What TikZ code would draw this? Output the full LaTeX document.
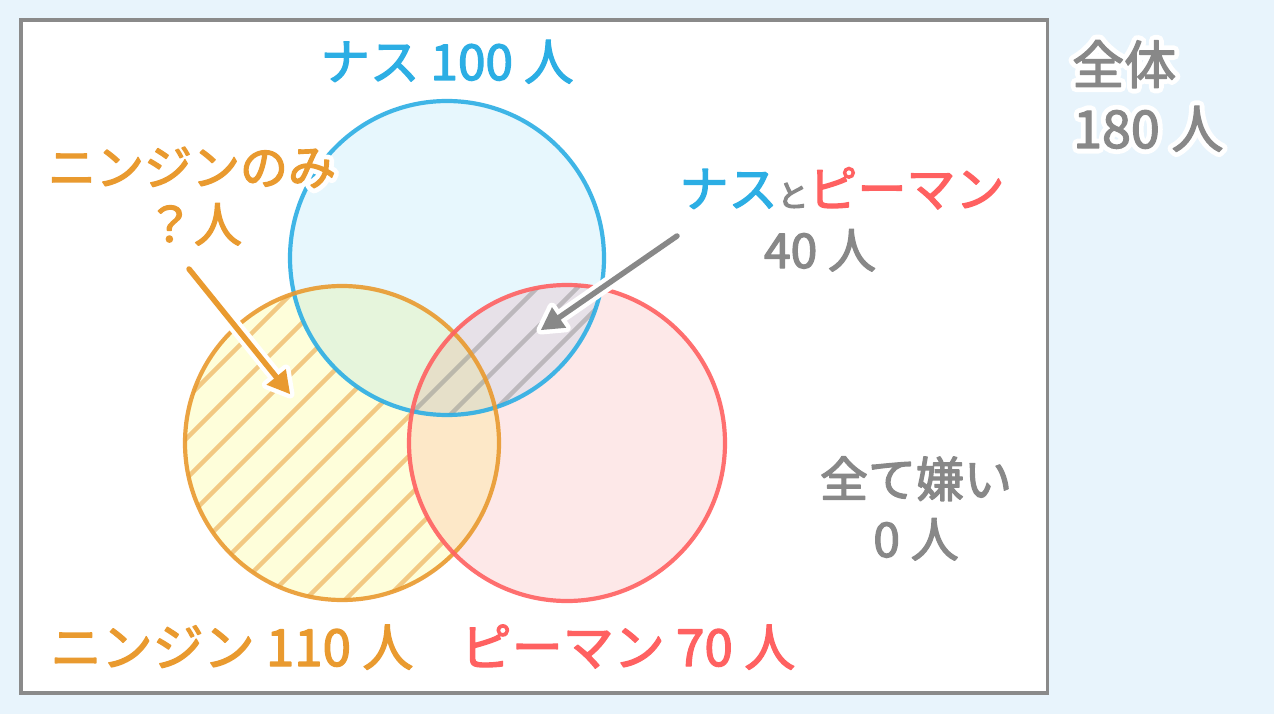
\documentclass[tikz,border=0pt]{standalone}
\usepackage{fontspec}
\setmainfont{Noto Sans CJK JP}
\usetikzlibrary{calc}
\definecolor{bgc}{HTML}{E8F4FC}
\definecolor{frameC}{HTML}{8A8A8A}
\definecolor{blueC}{HTML}{2CAEE4}
\definecolor{orangeC}{HTML}{E99A2F}
\definecolor{redC}{HTML}{FF6161}
\definecolor{grayC}{HTML}{888888}
\definecolor{fB}{HTML}{E7F7FD}
\definecolor{fO}{HTML}{FEFEDA}
\definecolor{fR}{HTML}{FDE8E8}
\definecolor{fBO}{HTML}{E6F5DC}
\definecolor{fOR}{HTML}{FDE8C8}
\definecolor{fBR}{HTML}{E7E1E8}
\definecolor{fBOR}{HTML}{E6E0C9}
\definecolor{hatchO}{HTML}{F2C983}
\newcommand\boldtxt[1]{\special{pdf:literal 1.3 w 1 j 2 Tr}#1\special{pdf:literal 0 Tr}}
\newcommand\halotxt[1]{\leavevmode\rlap{\textcolor{white}{\special{pdf:literal 11 w 1 J 1 j 2 Tr}#1\special{pdf:literal 0 Tr}}}\boldtxt{#1}}
\begin{document}
\begin{tikzpicture}[x=1pt,y=-1pt,
  lbl/.style={font=\fontsize{48pt}{52pt}\selectfont, inner sep=0pt, anchor=base},
  ring/.style={line width=4.2pt, draw opacity=0.9},
  hatchline/.style={line width=4.3pt},
  shafthalo/.style={white, line width=14pt, line cap=round, shorten >=16pt},
  shaft/.style={#1, line width=5.5pt, line cap=round, shorten >=12pt},
  headhalo/.style={white, fill=white, line width=9pt, line join=round},
]
\useasboundingbox (0,0) rectangle (1274,714);
\fill[bgc] (0,0) rectangle (1274,714);
\draw[frameC, fill=white, line width=3.5pt] (21,20) rectangle (1047.5,693);

\coordinate (B) at (447,258);
\coordinate (O) at (342,443);
\coordinate (R) at (567,443);

% region fills
\fill[fB] (B) circle (157);
\fill[fR] (R) circle (158);
\fill[fO] (O) circle (157);
\begin{scope}
  \clip (O) circle (157);
  \foreach \k in {0,...,18} {
    \draw[hatchO, hatchline] ({425+40*\k},0) -- ({425+40*\k-700},700);
  }
\end{scope}
\begin{scope}
  \clip (B) circle (157);
  \fill[fBO] (O) circle (157);
  \fill[fBR] (R) circle (158);
\end{scope}
\begin{scope}
  \clip (R) circle (158);
  \fill[fOR] (O) circle (157);
\end{scope}
\begin{scope}
  \clip (B) circle (157);
  \clip (R) circle (158);
  \fill[fBOR] (O) circle (157);
  \foreach \k in {0,...,18} {
    \draw[grayC, opacity=0.45, hatchline] ({425+40*\k},0) -- ({425+40*\k-700},700);
  }
\end{scope}

% outlines
\draw[ring, blueC] (B) circle (157);
\draw[ring, orangeC] (O) circle (157);
\draw[ring, redC] (R) circle (158);

% arrows
\coordinate (oa) at (189,269);
\coordinate (ob) at (290,394);
\coordinate (ga) at (677,236);
\coordinate (gb) at (541,330);
\coordinate (om) at ($(ob)!22pt!(oa)$);
\coordinate (gm) at ($(gb)!22pt!(ga)$);
\coordinate (ol) at ($(om)!12.5pt!90:(ob)$);
\coordinate (or) at ($(om)!12.5pt!-90:(ob)$);
\coordinate (gl) at ($(gm)!12.5pt!90:(gb)$);
\coordinate (gr) at ($(gm)!12.5pt!-90:(gb)$);
\draw[shafthalo] (oa) -- (ob);
\filldraw[headhalo] (ob) -- (ol) -- (or) -- cycle;
\draw[shaft=orangeC] (oa) -- (ob);
\fill[orangeC] (ob) -- (ol) -- (or) -- cycle;
\draw[shafthalo] (ga) -- (gb);
\filldraw[headhalo] (gb) -- (gl) -- (gr) -- cycle;
\draw[shaft=grayC] (ga) -- (gb);
\fill[grayC] (gb) -- (gl) -- (gr) -- cycle;

% labels
\node[lbl, font=\fontsize{49.5pt}{52pt}\selectfont, text=blueC] (nasu) at (447,80) {\boldtxt{ナス 100 人}};
\node[lbl, text=orangeC] (ninonly) at (192,185) {\halotxt{ニンジンのみ}};
\node[lbl, text=orangeC] (ninq) at (194,242) {\halotxt{？人}};
\node[lbl, font=\fontsize{49pt}{52pt}\selectfont] (nasupiman) at (842,207) {\boldtxt{\textcolor{blueC}{ナス}\textcolor{grayC}{\fontsize{31pt}{34pt}\selectfont と}\textcolor{redC}{ピーマン}}};
\node[lbl, text=grayC] (both) at (820,268) {\boldtxt{40 人}};
\node[lbl, font=\fontsize{52pt}{56pt}\selectfont, text=grayC, anchor=base west] (all) at (1072,84) {\halotxt{全体}};
\node[lbl, font=\fontsize{52pt}{56pt}\selectfont, text=grayC, anchor=base west] (allnum) at (1073,148) {\halotxt{180 人}};
\node[lbl, text=grayC] (none) at (916,497) {\boldtxt{全て嫌い}};
\node[lbl, text=grayC] (nonenum) at (916,557) {\boldtxt{0 人}};
\node[lbl, font=\fontsize{51pt}{54pt}\selectfont, text=orangeC] (nin) at (232,666) {\boldtxt{ニンジン 110 人}};
\node[lbl, font=\fontsize{51pt}{54pt}\selectfont, text=redC] (piman) at (628,666) {\boldtxt{ピーマン 70 人}};
\end{tikzpicture}
\end{document}
